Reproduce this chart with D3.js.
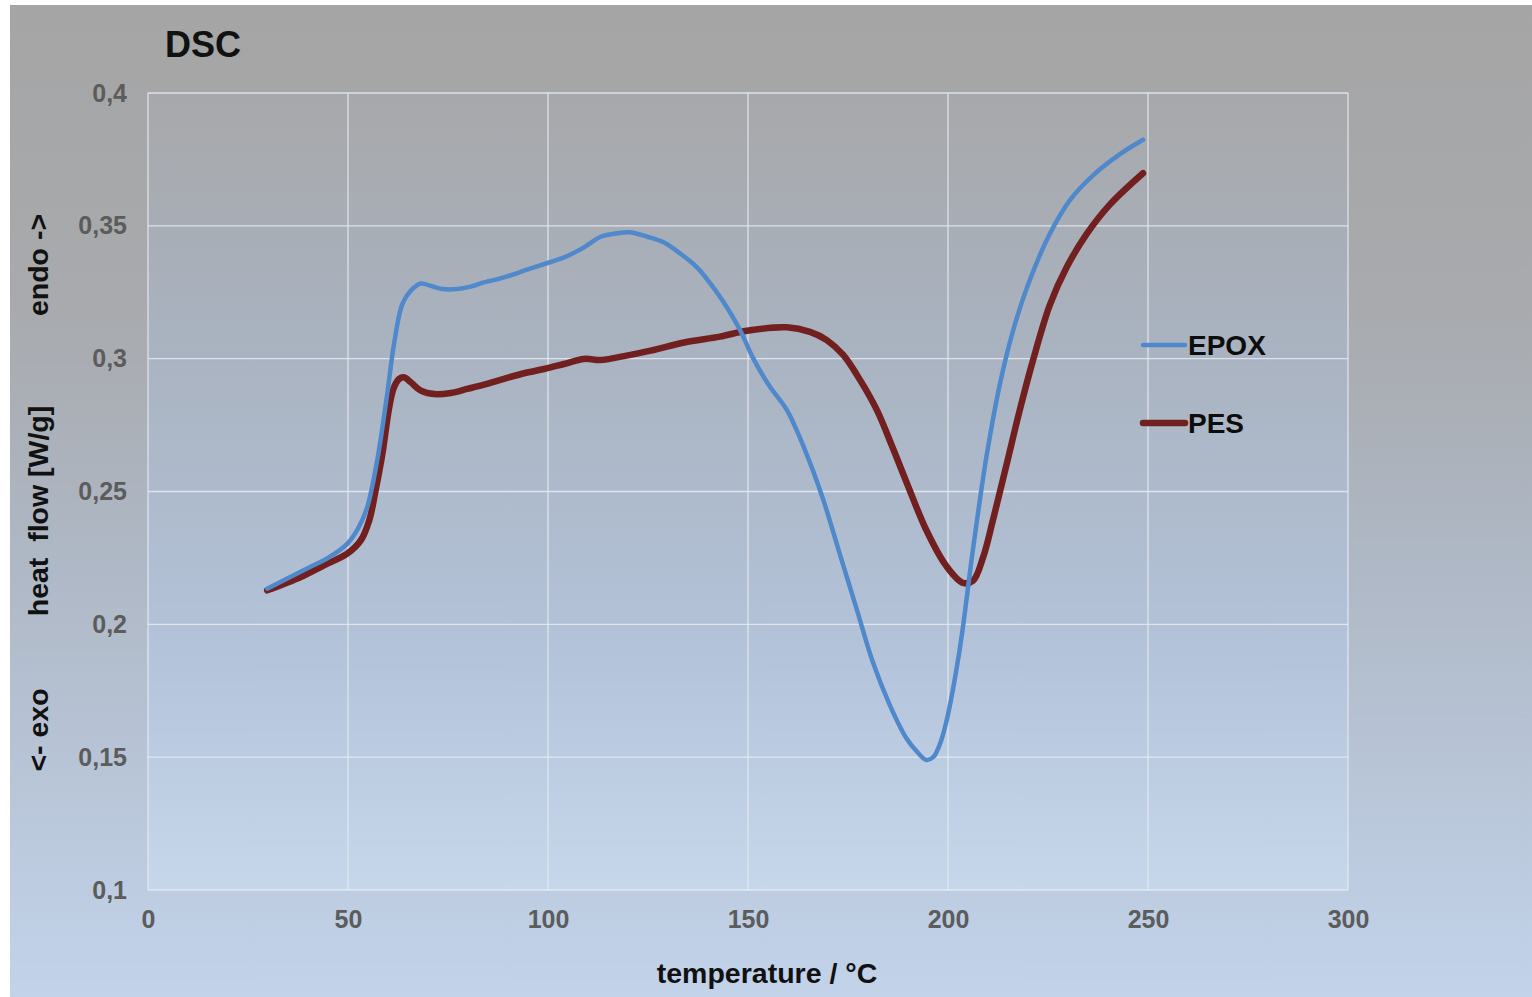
<!DOCTYPE html>
<html>
<head>
<meta charset="utf-8">
<script src="https://cdn.jsdelivr.net/npm/d3@7"></script>
<style>
  html, body { margin: 0; padding: 0; background: #ffffff; }
  svg { display: block; }
  text { font-family: "Liberation Sans", Arial, sans-serif; font-weight: bold; }
</style>
</head>
<body>
<svg id="chart" width="1532" height="997"></svg>
<script>
// DSC heat flow curves (temperature in °C, heat flow in W/g)
const epoxTemp = [29.8, 40, 45, 49.8, 52.5, 54.8, 57.3, 59.8, 61.5, 63.6, 65.7, 68.2, 70.7, 73.6, 77.3, 80.7, 84, 89, 94, 99, 104, 109, 113.2, 117.3, 120.7, 124.8, 129, 133.2, 137.3, 140.7, 143.8, 148, 151.3, 155.5, 159.7, 164.25, 168.75, 172.9, 177.1, 181.25, 185.4, 189.6, 192, 194.5, 196.3, 198, 199.6, 202.9, 206.25, 209.6, 212.9, 216.25, 220.4, 225.4, 230.4, 236.25, 242.9, 248.75];
const epoxFlow = [0.2134, 0.2212, 0.2250, 0.2303, 0.2360, 0.2441, 0.2617, 0.2867, 0.3055, 0.3206, 0.3256, 0.3283, 0.3274, 0.3262, 0.3262, 0.3271, 0.3287, 0.3306, 0.3331, 0.3356, 0.3381, 0.3419, 0.3459, 0.3472, 0.3475, 0.3459, 0.3437, 0.3394, 0.3343, 0.3281, 0.3215, 0.3108, 0.3001, 0.2894, 0.2807, 0.2656, 0.2472, 0.2267, 0.2061, 0.1856, 0.1698, 0.1571, 0.1525, 0.1490, 0.1500, 0.1550, 0.1634, 0.1903, 0.2283, 0.2630, 0.2899, 0.3105, 0.3294, 0.3468, 0.3595, 0.3690, 0.3769, 0.3824];

const pesTemp = [29.8, 34, 38.2, 44, 49.8, 53.2, 55.3, 56.9, 58.6, 60.3, 61.5, 62.8, 64, 65.7, 68.2, 71.5, 75.7, 79.8, 84, 89, 94, 99, 104, 109, 113.2, 117.3, 125.7, 134, 143, 149.7, 159.7, 165.5, 169.7, 173.8, 178, 182.2, 185.9, 189.6, 194.6, 199.6, 203.75, 206.25, 208.75, 211.25, 214.6, 217.9, 221.25, 225.4, 229.6, 234.6, 240.4, 248.75];
const pesFlow = [0.2128, 0.2152, 0.2178, 0.2222, 0.2266, 0.2316, 0.2391, 0.2504, 0.2642, 0.2817, 0.2892, 0.2924, 0.2930, 0.2911, 0.2880, 0.2867, 0.2871, 0.2886, 0.2902, 0.2924, 0.2945, 0.2961, 0.2980, 0.2999, 0.2995, 0.3005, 0.3030, 0.3061, 0.3083, 0.3105, 0.3118, 0.3101, 0.3070, 0.3014, 0.2920, 0.2807, 0.2675, 0.2536, 0.2354, 0.2219, 0.2156, 0.2164, 0.2251, 0.2393, 0.2599, 0.2804, 0.2994, 0.3200, 0.3342, 0.3468, 0.3579, 0.3698];

const seriesNames = ["EPOX", "PES"];
const xTicks = [0, 50, 100, 150, 200, 250, 300];
const yTicks = [0.1, 0.15, 0.2, 0.25, 0.3, 0.35, 0.4];

const svg = d3.select("#chart");
const W = 1532, H = 997;
const plot = { left: 148, right: 1348, top: 93, bottom: 890 };

const x = d3.scaleLinear().domain([0, 300]).range([plot.left, plot.right]);
const y = d3.scaleLinear().domain([0.1, 0.4]).range([plot.bottom, plot.top]);

const locale = d3.formatLocale({ decimal: ",", thousands: ".", grouping: [3], currency: ["", " €"] });
const fmt = locale.format("~g");

// background gradients
const defs = svg.append("defs");
const bg = defs.append("linearGradient").attr("id", "bgGrad")
  .attr("x1", 0).attr("y1", 0).attr("x2", 0).attr("y2", 1);
[[0, "#a5a5a5"], [0.3, "#a8aaad"], [0.55, "#aeb7c4"], [1, "#c2d3ea"]]
  .forEach(([o, c]) => bg.append("stop").attr("offset", o).attr("stop-color", c));

const pg = defs.append("linearGradient").attr("id", "plotGrad")
  .attr("x1", 0).attr("y1", 0).attr("x2", 0).attr("y2", 1);
[[0, "#a7a8aa"], [0.3, "#a9b2bf"], [0.7, "#b3c3d9"], [1, "#c6d6eb"]]
  .forEach(([o, c]) => pg.append("stop").attr("offset", o).attr("stop-color", c));

svg.append("rect").attr("x", 10).attr("y", 5).attr("width", W - 10).attr("height", H - 5)
  .attr("fill", "url(#bgGrad)");

svg.append("rect")
  .attr("x", plot.left).attr("y", plot.top)
  .attr("width", plot.right - plot.left).attr("height", plot.bottom - plot.top)
  .attr("fill", "url(#plotGrad)");

// gridlines
const grid = svg.append("g").attr("stroke", "#e6ebf1").attr("stroke-opacity", 0.85).attr("stroke-width", 1.3);
grid.selectAll(".gx").data(xTicks).join("line")
  .attr("x1", d => x(d)).attr("x2", d => x(d))
  .attr("y1", plot.top).attr("y2", plot.bottom);
grid.selectAll(".gy").data(yTicks).join("line")
  .attr("x1", plot.left).attr("x2", plot.right)
  .attr("y1", d => y(d)).attr("y2", d => y(d));

// axes
const yAxis = svg.append("g").attr("transform", `translate(${plot.left},0)`)
  .call(d3.axisLeft(y).tickValues(yTicks).tickFormat(fmt).tickSize(0).tickPadding(21));
const xAxis = svg.append("g").attr("transform", `translate(0,${plot.bottom})`)
  .call(d3.axisBottom(x).tickValues(xTicks).tickFormat(fmt).tickSize(0).tickPadding(20));
[yAxis, xAxis].forEach(a => {
  a.select(".domain").remove();
  a.selectAll("text").attr("fill", "#5c5c5c").style("font-size", "25px")
    .style("font-family", "'Liberation Sans', Arial, sans-serif").style("font-weight", "bold");
});

// curves
const line = d3.line().x(d => x(d[0])).y(d => y(d[1])).curve(d3.curveCatmullRom.alpha(0.5));
const epox = epoxTemp.map((t, i) => [t, epoxFlow[i]]);
const pes = pesTemp.map((t, i) => [t, pesFlow[i]]);

svg.append("path").datum(pes).attr("d", line)
  .attr("fill", "none").attr("stroke", "#72201f").attr("stroke-width", 6.5)
  .attr("stroke-linecap", "round").attr("stroke-linejoin", "round");
svg.append("path").datum(epox).attr("d", line)
  .attr("fill", "none").attr("stroke", "#4f88cb").attr("stroke-width", 4.5)
  .attr("stroke-linecap", "round").attr("stroke-linejoin", "round");

// legend
const legend = [
  { name: seriesNames[0], color: "#4f88cb", w: 4.5, flow: 0.3051 },
  { name: seriesNames[1], color: "#72201f", w: 6.5, flow: 0.2758 }
];
const lg = svg.append("g");
legend.forEach(d => {
  const ly = y(d.flow);
  lg.append("line").attr("x1", 1143).attr("x2", 1185).attr("y1", ly).attr("y2", ly)
    .attr("stroke", d.color).attr("stroke-width", d.w).attr("stroke-linecap", "round");
  lg.append("text").attr("x", 1188).attr("y", ly).attr("dy", "0.37em")
    .style("font-size", "28px").attr("fill", "#0d0d0d").text(d.name);
});

// titles
svg.append("text").attr("x", 165).attr("y", 57).style("font-size", "36px")
  .attr("fill", "#111").text("DSC");

svg.append("text").attr("x", 767).attr("y", 983).attr("text-anchor", "middle")
  .style("font-size", "28.5px").attr("fill", "#111").text("temperature / °C");

const yTitle = svg.append("g").attr("transform", "translate(48,0)");
[["<- exo", 730], ["heat  flow [W/g]", 511], ["endo ->", 265]].forEach(([t, cy]) => {
  yTitle.append("text").attr("transform", `translate(0,${cy}) rotate(-90)`)
    .attr("text-anchor", "middle").style("font-size", "28.5px").style("white-space", "pre")
    .attr("fill", "#111").text(t);
});
</script>
</body>
</html>
